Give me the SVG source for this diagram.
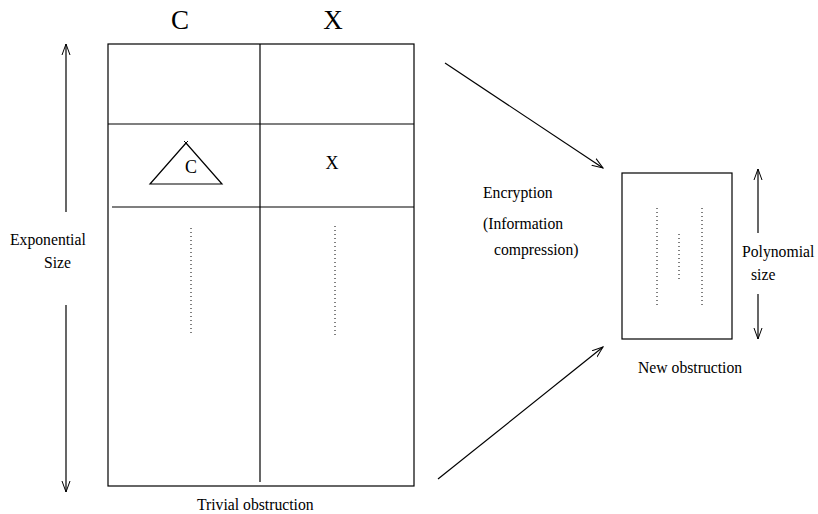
<svg xmlns="http://www.w3.org/2000/svg" width="818" height="514" viewBox="0 0 818 514">
<defs>
<style>
.ln{stroke:#000;stroke-width:1.2;fill:none}
.dot{stroke:#000;stroke-width:1;stroke-dasharray:1 3;fill:none}
.t{font-family:"Liberation Serif","Times New Roman",serif;font-size:15.7px;fill:#000}
.big{font-family:"Liberation Serif","Times New Roman",serif;font-size:27px;fill:#000}
.mid{font-family:"Liberation Serif","Times New Roman",serif;font-size:18px;fill:#000}
</style>
<marker id="ah" viewBox="0 0 12 10" refX="11" refY="5" markerWidth="12" markerHeight="10" markerUnits="userSpaceOnUse" orient="auto-start-reverse">
<path d="M0,1 L11,5 L0,9" fill="none" stroke="#000" stroke-width="1"/>
</marker>
</defs>
<rect width="818" height="514" fill="#fff"/>
<g id="trivial">
<rect x="108" y="44" width="306" height="442" class="ln"/>
<line x1="260" y1="44" x2="260" y2="482" class="ln"/>
<line x1="108" y1="124" x2="414" y2="124" class="ln"/>
<line x1="112" y1="207" x2="414" y2="207" class="ln"/>
<text x="180" y="29" class="big" text-anchor="middle">C</text>
<text x="333" y="29" class="big" text-anchor="middle">X</text>
<polygon points="186,143 150,184 222,184" class="ln"/>
<path d="M184,141 L188,145 M188,141 L184,145" stroke="#000" stroke-width="1"/>
<text x="191" y="173" class="mid" text-anchor="middle">C</text>
<text x="332" y="169" class="mid" text-anchor="middle">X</text>
<line x1="191" y1="228" x2="191" y2="335" class="dot"/>
<line x1="335" y1="226" x2="335" y2="335" class="dot"/>
<text x="197" y="510" class="t">Trivial obstruction</text>
</g>
<g id="newobs">
<rect x="622" y="173" width="110" height="166" class="ln"/>
<line x1="657" y1="208" x2="657" y2="305" class="dot"/>
<line x1="679" y1="234" x2="679" y2="281" class="dot"/>
<line x1="702" y1="208" x2="702" y2="305" class="dot"/>
<text x="638" y="373" class="t">New obstruction</text>
</g>
<g id="labels">
<text x="10" y="245" class="t">Exponential</text>
<text x="44" y="268" class="t">Size</text>
<text x="483" y="198" class="t">Encryption</text>
<text x="483" y="229" class="t">(Information</text>
<text x="494" y="255" class="t">compression)</text>
<text x="742" y="257" class="t">Polynomial</text>
<text x="751" y="280" class="t">size</text>
</g>
<g id="connectors">
<line x1="66" y1="212" x2="66" y2="44" class="ln" marker-end="url(#ah)"/>
<line x1="66" y1="305" x2="66" y2="492" class="ln" marker-end="url(#ah)"/>
<line x1="758" y1="233" x2="758" y2="169" class="ln" marker-end="url(#ah)"/>
<line x1="758" y1="294" x2="758" y2="339" class="ln" marker-end="url(#ah)"/>
<line x1="445" y1="63" x2="603" y2="168" class="ln" marker-end="url(#ah)"/>
<line x1="438" y1="479" x2="603" y2="347" class="ln" marker-end="url(#ah)"/>
</g>
</svg>
